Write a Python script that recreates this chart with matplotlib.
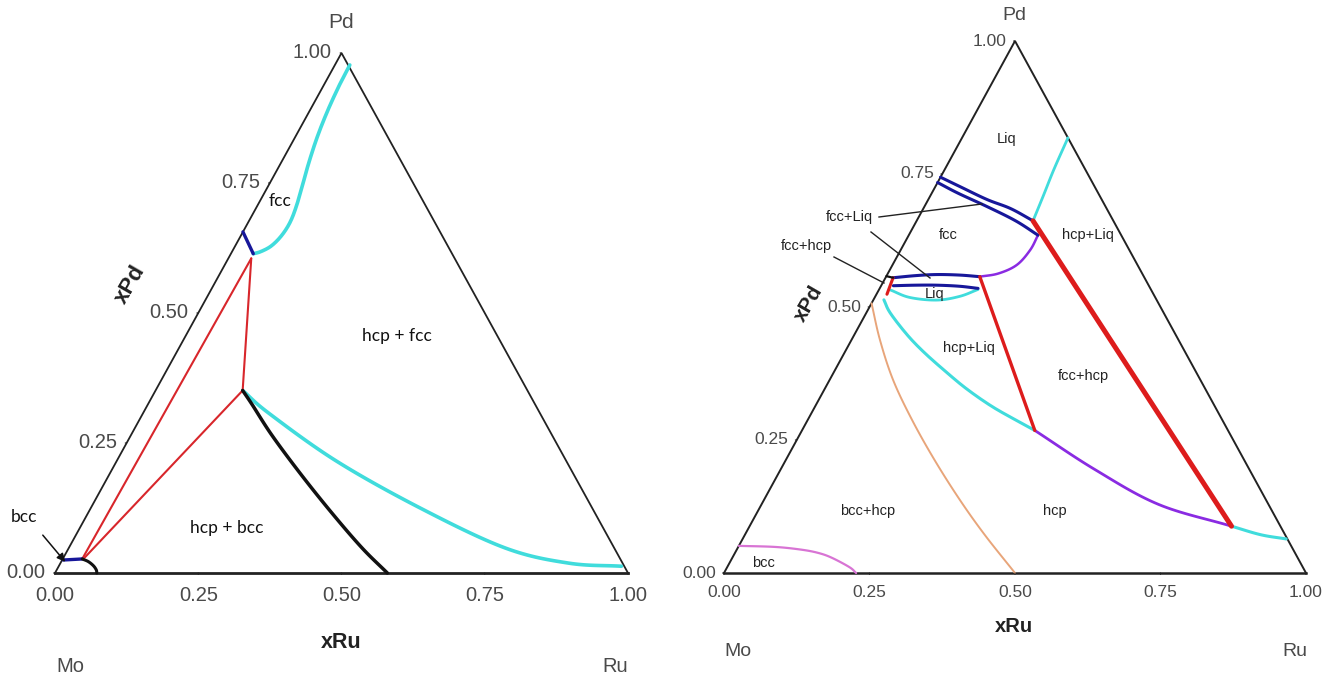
import numpy as np
import matplotlib.pyplot as plt
from matplotlib.patches import FancyArrowPatch

W, H = 1336, 682

# ---- data: (xRu, xPd) ----
# left diagram
L_cyan_top = [(0.026, 0.977), (0.027, 0.942), (0.031, 0.892), (0.038, 0.841), (0.048, 0.791),
              (0.058, 0.750), (0.068, 0.708), (0.073, 0.675), (0.071, 0.649), (0.063, 0.629),
              (0.050, 0.618), (0.039, 0.614)]
L_blue_top = [(0.0, 0.656), (0.039, 0.614)]
L_red = [[(0.040, 0.605), (0.034, 0.027)],
         [(0.040, 0.605), (0.152, 0.351)],
         [(0.152, 0.351), (0.036, 0.027)]]
L_cyan_low = [(0.152, 0.351), (0.220, 0.307), (0.384, 0.215), (0.577, 0.124), (0.762, 0.048),
              (0.887, 0.019), (0.982, 0.013)]
L_black = [(0.152, 0.351), (0.182, 0.324), (0.246, 0.265), (0.334, 0.190), (0.426, 0.115),
           (0.512, 0.048), (0.580, 0.0)]
L_blue_bcc = [(0.002, 0.025), (0.034, 0.027)]
L_black_bcc = [(0.034, 0.027), (0.047, 0.022), (0.060, 0.014), (0.069, 0.006), (0.073, 0.0)]

# right diagram
R_blue_top1 = [(0.0, 0.744), (0.043, 0.726), (0.101, 0.702), (0.150, 0.685), (0.200, 0.662)]
R_blue_top2 = [(0.0, 0.734), (0.045, 0.714), (0.107, 0.689), (0.170, 0.662), (0.222, 0.635)]
R_cyan_top = [(0.200, 0.662), (0.194, 0.710), (0.1875, 0.759), (0.182, 0.818)]
R_red_thick = [(0.200, 0.662), (0.828, 0.088)]
R_purple_arc = [(0.222, 0.635), (0.2225, 0.607), (0.2135, 0.579), (0.190, 0.563), (0.161, 0.557)]
R_blue_mid1 = [(0.013, 0.555), (0.050, 0.559), (0.085, 0.561), (0.125, 0.560), (0.161, 0.557)]
R_blue_mid2 = [(0.021, 0.540), (0.058, 0.541), (0.095, 0.541), (0.135, 0.539), (0.169, 0.535)]
R_cyan_mid = [(0.020, 0.532), (0.060, 0.518), (0.109, 0.513), (0.145, 0.520), (0.170, 0.533)]
R_red_mid = [(0.161, 0.557), (0.400, 0.268)]
R_red_small = [(0.013, 0.555), (0.018, 0.524)]
R_black_small = [(0.0, 0.558), (0.013, 0.555)]
R_cyan_big = [(0.018, 0.5135), (0.041, 0.489), (0.0905, 0.448), (0.136, 0.415), (0.191, 0.379),
              (0.244, 0.346), (0.304, 0.313), (0.363, 0.285), (0.400, 0.268)]
R_purple_low = [(0.400, 0.268), (0.539, 0.195), (0.682, 0.129), (0.828, 0.088)]
R_cyan_low = [(0.828, 0.088), (0.886, 0.072), (0.934, 0.064)]
R_orange = [(0.0, 0.507), (0.049, 0.438), (0.109, 0.363), (0.179, 0.288), (0.256, 0.212),
            (0.337, 0.137), (0.413, 0.071), (0.500, 0.0)]
R_pink = [(0.0, 0.051), (0.063, 0.049), (0.110, 0.044), (0.142, 0.038), (0.170, 0.029),
          (0.210, 0.011), (0.227, 0.0)]

ticks = [0.0, 0.25, 0.50, 0.75, 1.00]

CYAN = '#40dcdc'
RED = '#dd1c1c'
NAVY = '#17179a'
PURPLE = '#8a2be2'
TAN = '#e8a57a'
PINK = '#d874d4'
GRAY = '#4a4a4a'


def tern(pts):
    a = np.array(pts, dtype=float)
    return a[:, 0] + a[:, 1] / 2, a[:, 1]


def smooth(x, y, n=16):
    # Catmull-Rom through the read points, only for drawing
    if len(x) < 3:
        return x, y
    p = np.column_stack([x, y])
    p = np.vstack([2 * p[0] - p[1], p, 2 * p[-1] - p[-2]])
    out = []
    t = np.linspace(0, 1, n, endpoint=False)[:, None]
    for i in range(1, len(p) - 2):
        p0, p1, p2, p3 = p[i - 1], p[i], p[i + 1], p[i + 2]
        out.append(0.5 * (2 * p1 + (-p0 + p2) * t + (2 * p0 - 5 * p1 + 4 * p2 - p3) * t ** 2
                          + (-p0 + 3 * p1 - 3 * p2 + p3) * t ** 3))
    out.append(p[-2][None, :])
    out = np.vstack(out)
    return out[:, 0], out[:, 1]


def px(x, y):
    return x / W, 1 - y / H


fig = plt.figure(figsize=(W / 100, H / 100), dpi=100)
plt.rcParams['font.family'] = ['Liberation Sans', 'DejaVu Sans']


def make_axes(left, right, top, base):
    ax = fig.add_axes([left / W, 1 - base / H, (right - left) / W, (base - top) / H])
    ax.set_xlim(0, 1)
    ax.set_ylim(0, 1)
    ax.axis('off')
    return ax


def frame(ax, lw, base_lw, tick_fs, left_off, bottom_off):
    ax.plot([0, 0.5, 1], [0, 1, 0], color='#222222', lw=lw, clip_on=False,
            solid_joinstyle='miter')
    ax.plot([0, 1], [0, 0], color='#222222', lw=base_lw, clip_on=False)
    for t in ticks:
        ax.annotate(f'{t:.2f}', (t / 2, t), xytext=(-left_off, 0), textcoords='offset points',
                    ha='right', va='center', fontsize=tick_fs, color=GRAY)
        ax.annotate(f'{t:.2f}', (t, 0), xytext=(0, -bottom_off), textcoords='offset points',
                    ha='center', va='center', fontsize=tick_fs, color=GRAY)
        ax.annotate('', (t / 2, t), xytext=(-3, 0), textcoords='offset points',
                    arrowprops=dict(arrowstyle='-', color='#222222', lw=0.8))
        ax.annotate('', (t, 0), xytext=(0, -3), textcoords='offset points',
                    arrowprops=dict(arrowstyle='-', color='#222222', lw=0.8))


def line(ax, pts, color, lw):
    x, y = smooth(*tern(pts))
    ax.plot(x, y, color=color, lw=lw, solid_capstyle='round', clip_on=False)


# ================= left diagram =================
axL = make_axes(55, 628, 53, 573)
frame(axL, 1.3, 2.0, 14.5, 7, 16)
line(axL, L_cyan_top, CYAN, 2.6)
line(axL, L_cyan_low, CYAN, 2.6)
line(axL, L_blue_top, NAVY, 2.4)
for seg in L_red:
    line(axL, seg, '#d8262b', 1.5)
line(axL, L_black, '#111111', 2.5)
line(axL, L_blue_bcc, NAVY, 2.4)
line(axL, L_black_bcc, '#111111', 2.2)

fig.text(*px(341, 22), 'Pd', fontsize=15, color=GRAY, ha='center', va='center')
fig.text(*px(70, 667), 'Mo', fontsize=14.5, color=GRAY, ha='center', va='center')
fig.text(*px(615, 667), 'Ru', fontsize=14.5, color=GRAY, ha='center', va='center')
fig.text(*px(341, 643), 'xRu', fontsize=15.5, fontweight='bold', color='#222222',
         ha='center', va='center')
fig.text(*px(130, 285), 'xPd', fontsize=16, fontweight='bold', color='#222222',
         ha='center', va='center', rotation=60)

for x, y, s in [(280, 201, 'fcc'), (397, 336, 'hcp + fcc'), (227, 528, 'hcp + bcc'),
                (24, 517, 'bcc')]:
    fig.text(*px(x, y), s, fontsize=12.5, family='Lato', color='#111111',
             ha='center', va='center')
fig.patches.append(FancyArrowPatch(px(41, 533), px(67, 564), transform=fig.transFigure,
                                   arrowstyle='-|>', mutation_scale=12, color='#111111', lw=1.1))

# ================= right diagram =================
axR = make_axes(724, 1306, 41, 573)
frame(axR, 1.4, 1.8, 12.5, 6, 14)
line(axR, R_orange, TAN, 1.4)
line(axR, R_pink, PINK, 1.6)
line(axR, R_cyan_top, CYAN, 2.0)
line(axR, R_cyan_big, CYAN, 2.2)
line(axR, R_cyan_low, CYAN, 2.2)
line(axR, R_cyan_mid, CYAN, 2.0)
line(axR, R_purple_arc, PURPLE, 1.8)
line(axR, R_purple_low, PURPLE, 2.0)
line(axR, R_blue_top1, NAVY, 2.2)
line(axR, R_blue_top2, NAVY, 2.2)
line(axR, R_blue_mid1, NAVY, 2.2)
line(axR, R_blue_mid2, NAVY, 2.2)
line(axR, R_red_thick, RED, 3.6)
line(axR, R_red_mid, RED, 2.4)
line(axR, R_red_small, RED, 2.2)
line(axR, R_black_small, '#111111', 1.6)

fig.text(*px(1014, 16), 'Pd', fontsize=14, color=GRAY, ha='center', va='center')
fig.text(*px(738, 652), 'Mo', fontsize=14, color=GRAY, ha='center', va='center')
fig.text(*px(1295, 652), 'Ru', fontsize=14, color=GRAY, ha='center', va='center')
fig.text(*px(1014, 626), 'xRu', fontsize=14.5, fontweight='bold', color='#222222',
         ha='center', va='center')
fig.text(*px(809, 304), 'xPd', fontsize=15, fontweight='bold', color='#222222',
         ha='center', va='center', rotation=60)

for x, y, s in [(1007, 139, 'Liq'), (849, 217, 'fcc+Liq'), (948, 235, 'fcc'),
                (1088, 235, 'hcp+Liq'), (806, 246, 'fcc+hcp'), (935, 294, 'Liq'),
                (969, 348, 'hcp+Liq'), (1083, 376, 'fcc+hcp'), (868, 511, 'bcc+hcp'),
                (1055, 511, 'hcp'), (763, 563, 'bcc')]:
    fig.text(*px(x, y), s, fontsize=10.5, color='#222222', ha='center', va='center')

for (x0, y0), (x1, y1) in [((879, 217), (982, 204)), ((871, 232), (930, 278)),
                           ((834, 257), (884, 283))]:
    fig.lines.append(plt.Line2D([x0 / W, x1 / W], [1 - y0 / H, 1 - y1 / H],
                                transform=fig.transFigure, color='#222222', lw=1.0))

fig.savefig('out.png', dpi=100, facecolor='white')
